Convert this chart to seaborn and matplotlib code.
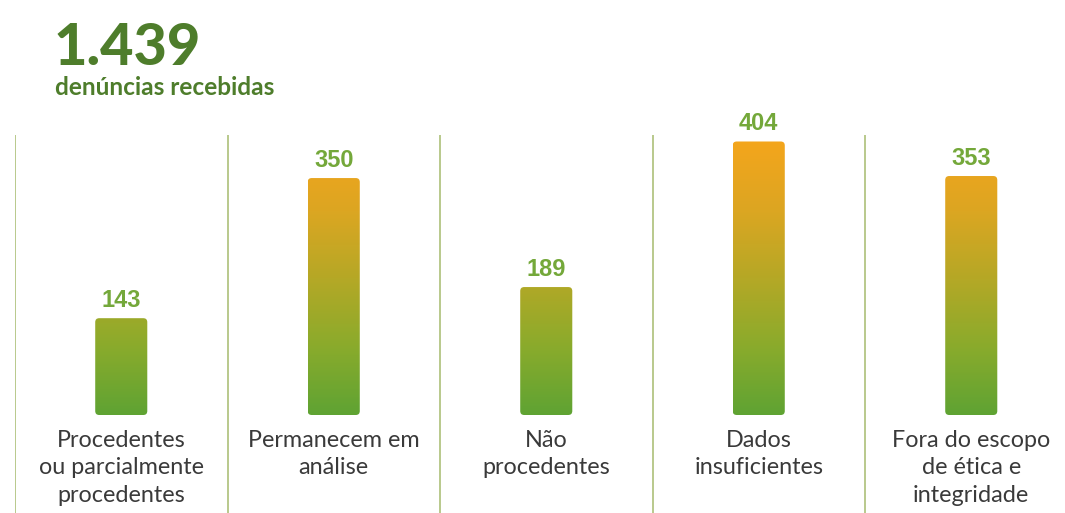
import numpy as np
import matplotlib
matplotlib.use("Agg")
import matplotlib.pyplot as plt
from matplotlib.colors import LinearSegmentedColormap
from matplotlib.patches import FancyBboxPatch
import seaborn as sns

# Denúncias por status
categorias = [
    "Procedentes\nou parcialmente\nprocedentes",
    "Permanecem em\nanálise",
    "Não\nprocedentes",
    "Dados\ninsuficientes",
    "Fora do escopo\nde ética e\nintegridade",
]
valores = [143, 350, 189, 404, 353]
total_texto = "1.439"
subtitulo = "denúncias recebidas"

sns.set_theme(style="white")
plt.rcParams["font.family"] = ["Lato", "DejaVu Sans"]

W, H = 1065, 513
fig = plt.figure(figsize=(W / 100, H / 100), dpi=100)
fig.patch.set_facecolor("white")

# axes: columns 212.5 px wide starting at x=15; zero line at y=415 px
col_px = 212.5
left_px = 15
px_per_unit = 0.677
zero_px = 415
top_px = 135
ax = fig.add_axes([left_px / W, 0, (W - left_px) / W, (H - top_px) / H])
ax.set_facecolor("none")

sns.barplot(x=list(range(len(valores))), y=valores, ax=ax, width=0.245,
            color="#6aad2e", saturation=1)

ymin = -(H - zero_px) / px_per_unit
ymax = (zero_px - top_px) / px_per_unit
xmax = -0.5 + (W - left_px) / col_px

cmap = LinearSegmentedColormap.from_list(
    "verde_laranja", ["#5fa333", "#8aab2c", "#b5a826", "#dca622", "#f4a51c"])
vmax = max(valores)

x_units_per_px = 1 / col_px
y_units_per_px = 1 / px_per_unit
aspect = y_units_per_px / x_units_per_px
radius = 4 * x_units_per_px

for patch in list(ax.patches):
    x0 = patch.get_x()
    w = patch.get_width()
    h = patch.get_height()
    patch.set_visible(False)
    box = FancyBboxPatch((x0, 0), w, h,
                         boxstyle=f"round,pad=0,rounding_size={radius}",
                         mutation_aspect=aspect,
                         facecolor="none", edgecolor="none")
    ax.add_patch(box)
    grad = np.linspace(0, h, 256).reshape(-1, 1)
    im = ax.imshow(grad, extent=[x0, x0 + w, 0, h], origin="lower",
                   aspect="auto", cmap=cmap, vmin=0, vmax=vmax,
                   interpolation="bilinear", zorder=2)
    im.set_clip_path(box)
    # value label above the bar
    ax.annotate(f"{int(round(h))}", xy=(x0 + w / 2, h), xytext=(0, 8),
                textcoords="offset points", ha="center", va="baseline",
                fontsize=17, fontweight="bold", color="#74a83a",
                family=["Liberation Sans", "DejaVu Sans"], zorder=3)

# thin separators between columns
for i in range(len(valores)):
    ax.axvline(i - 0.5, ymin=0, ymax=1, color="#b9c98c", lw=1.4, zorder=1)

# category labels under each bar
for i, cat in enumerate(categorias):
    ax.text(i, -22, cat, ha="center", va="top", fontsize=16.8,
            color="#3a3a3a", linespacing=1.38, multialignment="center",
            zorder=3)

ax.set_xlim(-0.5, xmax)
ax.set_ylim(ymin, ymax)
ax.axis("off")

# headline
fig.text(54 / W, 1 - 65 / H, total_texto, fontsize=41.5, fontweight="black",
         color="#4e7d2b", ha="left", va="baseline")
fig.text(55 / W, 1 - 95 / H, subtitulo, fontsize=17.6, fontweight="bold",
         color="#4e7d2b", ha="left", va="baseline")

fig.savefig("out.png", dpi=100, facecolor="white")
